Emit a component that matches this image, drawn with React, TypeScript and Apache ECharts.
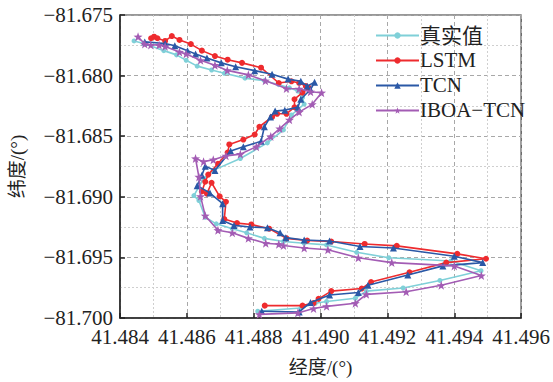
import React, { useEffect, useRef } from "react";
import * as echarts from "echarts";

// Track points as [longitude, latitude]
const truthTrack: number[][] = [
  [41.48442, -81.67714], [41.48477, -81.6774], [41.48531, -81.67794], [41.48569, -81.67829],
  [41.48598, -81.67874], [41.48631, -81.67922], [41.48674, -81.67954], [41.48712, -81.67981],
  [41.48774, -81.68021], [41.48832, -81.68042], [41.48875, -81.68075], [41.48907, -81.68101],
  [41.48932, -81.68127], [41.48946, -81.68181], [41.48951, -81.68235], [41.48913, -81.68325],
  [41.48889, -81.68448], [41.48841, -81.68555], [41.4876, -81.68684], [41.48679, -81.68782],
  [41.4865, -81.68849], [41.48621, -81.6899], [41.48636, -81.69031], [41.48655, -81.69169],
  [41.48688, -81.69223], [41.48736, -81.69263], [41.48779, -81.69297], [41.48832, -81.69343],
  [41.48889, -81.69369], [41.48951, -81.69383], [41.49018, -81.69397], [41.49108, -81.69458],
  [41.49204, -81.69503], [41.4939, -81.6953], [41.4948, -81.6961], [41.49357, -81.6969],
  [41.49247, -81.69752], [41.49137, -81.69778], [41.49104, -81.69837], [41.49018, -81.69864],
  [41.48984, -81.69878], [41.48941, -81.69918], [41.48812, -81.69944],
];

const lstmTrack: number[][] = [
  [41.48493, -81.67692], [41.48502, -81.67679], [41.48512, -81.67692], [41.48535, -81.67714],
  [41.48555, -81.67674], [41.48578, -81.67706], [41.48612, -81.6774], [41.48645, -81.67794],
  [41.48684, -81.67839], [41.48722, -81.67869], [41.48765, -81.67895], [41.48822, -81.67935],
  [41.48875, -81.68061], [41.48913, -81.68047], [41.48936, -81.68061], [41.48956, -81.68087],
  [41.48965, -81.68101], [41.48946, -81.68141], [41.48922, -81.68195], [41.48922, -81.68261],
  [41.48898, -81.68315], [41.4887, -81.68315], [41.48855, -81.68341], [41.48817, -81.68422],
  [41.48803, -81.68486], [41.48769, -81.68528], [41.48727, -81.68568], [41.48722, -81.68635],
  [41.48693, -81.68728], [41.48664, -81.68817], [41.48655, -81.68876], [41.48645, -81.68956],
  [41.4866, -81.68974], [41.48674, -81.68884], [41.48698, -81.68996], [41.48717, -81.69041],
  [41.48712, -81.69183], [41.4875, -81.69217], [41.48793, -81.69228], [41.48846, -81.69263],
  [41.48898, -81.69343], [41.4896, -81.69361], [41.49032, -81.69369], [41.49132, -81.69389],
  [41.49228, -81.69405], [41.49409, -81.69471], [41.49495, -81.69511], [41.49376, -81.69543],
  [41.49266, -81.69623], [41.49151, -81.69703], [41.49123, -81.69757], [41.49032, -81.69778],
  [41.48994, -81.69842], [41.48979, -81.69877], [41.48946, -81.69898], [41.48833, -81.69898],
];

const tcnTrack: number[][] = [
  [41.48474, -81.67722], [41.48535, -81.67735], [41.48564, -81.67754], [41.48602, -81.67794],
  [41.48626, -81.67821], [41.4866, -81.67855], [41.48703, -81.67895], [41.48746, -81.67927],
  [41.48803, -81.67959], [41.48855, -81.67989], [41.48903, -81.68029], [41.48941, -81.68047],
  [41.4896, -81.68087], [41.48982, -81.68055], [41.4897, -81.68115], [41.48941, -81.68195],
  [41.48932, -81.68261], [41.48893, -81.68285], [41.48864, -81.68293], [41.4885, -81.68341],
  [41.48832, -81.68422], [41.48822, -81.68542], [41.48769, -81.68587], [41.48731, -81.68622],
  [41.48684, -81.68782], [41.48655, -81.68748], [41.48645, -81.68822], [41.48631, -81.68908],
  [41.48669, -81.68969], [41.48707, -81.69057], [41.48707, -81.69196], [41.48741, -81.69236],
  [41.48789, -81.69249], [41.48841, -81.69255], [41.48879, -81.69297], [41.48896, -81.69337],
  [41.48951, -81.69357], [41.49027, -81.69365], [41.49118, -81.6941], [41.49218, -81.69423],
  [41.494, -81.6949], [41.49485, -81.69543], [41.49366, -81.6957], [41.49261, -81.69645],
  [41.49142, -81.6973], [41.49113, -81.69789], [41.49027, -81.6981], [41.4897, -81.69872],
  [41.48936, -81.6995], [41.48824, -81.69944],
];

const iboaTcnTrack: number[][] = [
  [41.48454, -81.67679], [41.48474, -81.6774], [41.48492, -81.67748], [41.48517, -81.67748],
  [41.48535, -81.67759], [41.48578, -81.67805], [41.48598, -81.67821], [41.48641, -81.67874],
  [41.48684, -81.67914], [41.48721, -81.67957], [41.48784, -81.67994], [41.48835, -81.68042],
  [41.48898, -81.68107], [41.48936, -81.68109], [41.4897, -81.68133], [41.49003, -81.68141],
  [41.48975, -81.68237], [41.48936, -81.68301], [41.48907, -81.68365], [41.48878, -81.68438],
  [41.48851, -81.68502], [41.48808, -81.68587], [41.4876, -81.68648], [41.48717, -81.68662],
  [41.48679, -81.68694], [41.4865, -81.6871], [41.48626, -81.68684], [41.48636, -81.68836],
  [41.48641, -81.68996], [41.48655, -81.69156], [41.48693, -81.69276], [41.48736, -81.69297],
  [41.48784, -81.69343], [41.48836, -81.69383], [41.48875, -81.69391], [41.48889, -81.69402],
  [41.48951, -81.69423], [41.49022, -81.69437], [41.49113, -81.69503], [41.49213, -81.69543],
  [41.494, -81.6957], [41.49481, -81.6965], [41.49361, -81.6973], [41.49256, -81.69784],
  [41.49137, -81.69805], [41.49104, -81.69878], [41.49018, -81.69904], [41.48979, -81.69922],
  [41.48932, -81.69958], [41.48817, -81.6997],
];

const seriesNames = ["真实值", "LSTM", "TCN", "IBOA\u2212TCN"];
const seriesColors = ["#7fd0d8", "#ee2b2e", "#2a58a6", "#a35cb4"];

const STAR =
  "path://M0,-10L2.35,-3.24L9.51,-3.09L3.8,1.24L5.88,8.09L0,4L-5.88,8.09L-3.8,1.24L-9.51,-3.09L-2.35,-3.24Z";

const FONT = "'Liberation Serif', 'Times New Roman', 'Noto Sans CJK SC', serif";

export default function App() {
  const ref = useRef<HTMLDivElement>(null);

  useEffect(() => {
    if (!ref.current) return;
    const chart = echarts.init(ref.current, undefined, { renderer: "svg" });

    const tracks = [truthTrack, lstmTrack, tcnTrack, iboaTcnTrack];
    const symbols = ["circle", "circle", "triangle", STAR];
    const sizes = [5, 6, 7, 9];

    const splitLine = { show: true, lineStyle: { color: "#a8a8a8", type: [4, 3], width: 1 } };
    const minorSplitLine = { show: true, lineStyle: { color: "#cfcfcf", type: [2, 2], width: 1 } };

    chart.setOption({
      animation: false,
      backgroundColor: "#ffffff",
      grid: {
        left: 106,
        right: 28,
        top: 15,
        bottom: 55,
        show: true,
        borderColor: "#333",
        borderWidth: 1.2,
        backgroundColor: "transparent",
      },
      legend: {
        orient: "vertical",
        left: 370,
        top: 20,
        itemWidth: 43,
        itemHeight: 8,
        itemGap: 4,
        data: seriesNames,
        textStyle: { fontFamily: FONT, fontSize: 21, color: "#222", padding: [0, 0, 0, -4] },
      },
      xAxis: {
        type: "value",
        min: 41.484,
        max: 41.496,
        interval: 0.002,
        name: "经度/(°)",
        nameLocation: "middle",
        nameGap: 40,
        nameTextStyle: { fontFamily: FONT, fontSize: 19, color: "#222" },
        axisLine: { show: true, lineStyle: { color: "#222", width: 1.5 } },
        axisTick: { show: true, inside: true, length: 5, lineStyle: { color: "#222", width: 1.5 } },
        axisLabel: {
          fontFamily: FONT,
          fontSize: 21,
          lineHeight: 20,
          color: "#222",
          margin: 9,
          formatter: (v: number) => v.toFixed(3),
        },
        splitLine,
        minorTick: { show: false, splitNumber: 2 },
        minorSplitLine,
      },
      yAxis: {
        type: "value",
        min: -81.7,
        max: -81.675,
        interval: 0.005,
        name: "纬度/(°)",
        nameLocation: "middle",
        nameGap: 93,
        nameTextStyle: { fontFamily: FONT, fontSize: 19, color: "#222" },
        axisLine: { show: true, lineStyle: { color: "#222", width: 1.5 } },
        axisTick: { show: true, inside: true, length: 5, lineStyle: { color: "#222", width: 1.5 } },
        axisLabel: {
          fontFamily: FONT,
          fontSize: 21,
          lineHeight: 18,
          color: "#222",
          margin: 7,
          formatter: (v: number) => v.toFixed(3).replace("-", "\u2212"),
        },
        splitLine,
        minorTick: { show: false, splitNumber: 2 },
        minorSplitLine,
      },
      series: tracks.map((track, i) => ({
        name: seriesNames[i],
        type: "line",
        data: track,
        symbol: symbols[i],
        symbolSize: sizes[i],
        showAllSymbol: true,
        color: seriesColors[i],
        lineStyle: { color: seriesColors[i], width: 1.6 },
        itemStyle: { color: seriesColors[i] },
        z: [2, 3, 4, 5][i],
      })),
    });

    return () => chart.dispose();
  }, []);

  return <div ref={ref} style={{ width: 553, height: 382, position: "absolute", left: 0, top: 0 }} />;
}
